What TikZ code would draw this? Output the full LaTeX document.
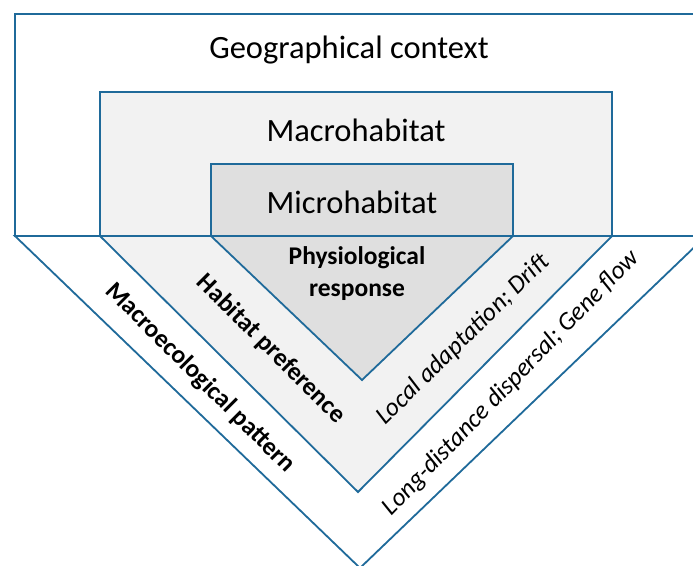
\documentclass[tikz,border=0pt]{standalone}
\usepackage{fontspec}
\setmainfont{Carlito}
\definecolor{edgeblue}{HTML}{1F6A9A}
\definecolor{macrofill}{HTML}{F2F2F2}
\definecolor{microfill}{HTML}{DFDFDF}
\begin{document}
\begin{tikzpicture}[x=1pt,y=-1pt,
  zone/.style={draw=edgeblue,line width=1.8pt,line join=miter},
  bigtext/.style={font=\fontsize{32.5}{38}\selectfont,inner sep=0pt},
  boldlab/.style={font=\fontsize{25.5}{32}\selectfont\bfseries,inner sep=0pt},
  itlab/.style={font=\fontsize{25.5}{32}\selectfont\itshape,inner sep=0pt}]
\useasboundingbox (0,0) rectangle (693,565);
\clip (0,0) rectangle (693,565);
\fill[white] (0,0) rectangle (693,565);
% outer
\draw[zone,fill=white] (15,14) rectangle (706,236);
\draw[zone,fill=white] (15,236) -- (706,236) -- (360,568) -- cycle;
% macro
\draw[zone,fill=macrofill] (100,92) rectangle (612,236);
\draw[zone,fill=macrofill] (100,236) -- (612,236) -- (358,492) -- cycle;
% micro
\draw[zone,fill=microfill] (211,164) rectangle (513,236);
\draw[zone,fill=microfill] (211,236) -- (513,236) -- (362,380) -- cycle;
% texts
\node[bigtext] (geo) at (349,50) {Geographical context};
\node[bigtext] (macro) at (356,130) {Macrohabitat};
\node[bigtext] (micro) at (352,202) {Microhabitat};
\node[boldlab,align=center] (phys) at (357,274) {Physiological\\response};
\node[boldlab,rotate=-45] (hab) at (271,349) {Habitat preference};
\node[boldlab,rotate=-45] (mep) at (200,378) {Macroecological pattern};
\node[itlab,rotate=44.5] (loc) at (463,340) {Local adaptation; Drift};
\node[itlab,rotate=46] (ldd) at (511,383) {Long-distance dispersal; Gene flow};
\end{tikzpicture}
\end{document}
